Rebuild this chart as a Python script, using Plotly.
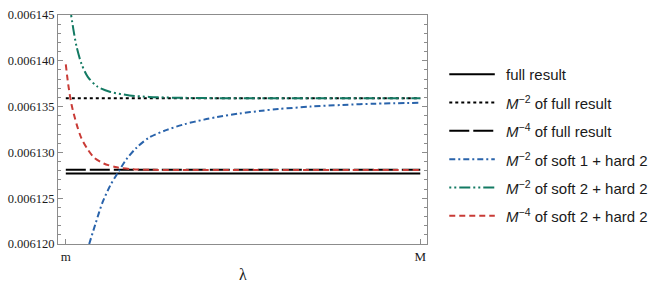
import plotly.graph_objects as go

# ---- data (lambda as fraction between m and M) ----
full_result = 0.0061277
m2_full = 0.0061359
m4_full = 0.0061281

blue_lam = [0.066, 0.085, 0.103, 0.126, 0.148, 0.171, 0.199, 0.235, 0.281, 0.335, 0.390,
            0.426, 0.490, 0.553, 0.599, 0.690, 0.781, 0.872, 1.0]
blue_val = [0.00612000, 0.00612236, 0.00612448, 0.00612643, 0.00612784, 0.00612925, 0.00613049,
            0.00613162, 0.00613240, 0.00613308, 0.00613358, 0.00613385, 0.00613425, 0.00613455,
            0.00613473, 0.00613500, 0.00613518, 0.00613532, 0.00613542]

green_lam = [0.015, 0.021, 0.030, 0.044, 0.062, 0.089, 0.126, 0.180, 0.235, 0.309, 0.399,
             0.536, 0.672, 0.836, 1.0]
green_val = [0.00614500, 0.00614352, 0.00614161, 0.00613970, 0.00613825, 0.00613719, 0.00613660,
             0.00613622, 0.00613606, 0.00613597, 0.00613593, 0.00613591, 0.0061359, 0.0061359,
             0.0061359]

red_lam = [0.0, 0.007, 0.016, 0.030, 0.044, 0.062, 0.080, 0.107, 0.144, 0.189, 0.244,
           0.330, 0.500, 0.750, 1.0]
red_val = [0.00613960, 0.00613737, 0.00613525, 0.00613314, 0.00613155, 0.00613031, 0.00612943,
           0.00612879, 0.00612837, 0.00612816, 0.00612810, 0.00612808, 0.00612808, 0.00612808,
           0.00612808]

x_ticks = [0, 1]
x_ticklabels = ["m", "M"]
y_ticks = [0.006120, 0.006125, 0.006130, 0.006135, 0.006140, 0.006145]
y_ticklabels = ["0.006120", "0.006125", "0.006130", "0.006135", "0.006140", "0.006145"]

BLUE = "#2963AB"
GREEN = "#137A63"
RED = "#C93B36"

series = [
    # name, x, y, color, dash
    ("full result", [0, 1], [full_result, full_result], "#000000", "solid"),
    ("<i>M</i><sup>−2</sup> of full result", [0, 1], [m2_full, m2_full], "#000000", "3px,3px"),
    ("<i>M</i><sup>−4</sup> of full result", [0, 1], [m4_full, m4_full], "#000000", "20px,4px"),
    ("<i>M</i><sup>−2</sup> of soft 1 + hard 2", blue_lam, blue_val, BLUE, "6px,3px,2px,3px"),
    ("<i>M</i><sup>−2</sup> of soft 2 + hard 2", green_lam, green_val, GREEN, "2px,3px,2px,3px,11px,3px"),
    ("<i>M</i><sup>−4</sup> of soft 2 + hard 2", red_lam, red_val, RED, "6px,4px"),
]

fig = go.Figure()
for name, xs, ys, col, dash in series:
    fig.add_trace(go.Scatter(x=xs, y=ys, mode="lines", name=name, showlegend=False,
                             hoverinfo="skip",
                             line=dict(color=col, width=2, dash=dash, shape="spline", smoothing=0.8)))

W, H = 664, 290
L, R, T, B = 46, 427, 8, 244
pw, ph = R - L, B - T

# manual legend
leg_y0 = 69
leg_dy = 29.2
for i, (name, xs, ys, col, dash) in enumerate(series):
    ypix = leg_y0 + i * leg_dy
    yp = (B - ypix) / ph
    fig.add_shape(type="line", xref="paper", yref="paper",
                  x0=(450 - L) / pw, x1=(497 - L) / pw, y0=yp, y1=yp,
                  line=dict(color=col, width=2, dash=dash))
    fig.add_annotation(xref="paper", yref="paper", x=(507 - L) / pw, y=yp,
                       text=name, showarrow=False, xanchor="left", yanchor="middle",
                       font=dict(family="Liberation Sans", size=15, color="#1a1a1a"))

fig.add_annotation(xref="paper", yref="paper", x=0.5, y=-(275 - B) / ph, text="λ",
                   showarrow=False, xanchor="center", yanchor="middle",
                   font=dict(family="Liberation Serif", size=16, color="#1a1a1a"))

axis_col = "#8c8c8c"
fig.update_layout(
    width=W, height=H,
    margin=dict(l=L, r=W - R, t=T, b=H - B, pad=0),
    paper_bgcolor="white", plot_bgcolor="white",
    showlegend=False,
    hovermode=False,
    xaxis=dict(range=[-0.022, 1.019], tickmode="array", tickvals=x_ticks, ticktext=x_ticklabels,
               ticks="inside", ticklen=5, tickcolor=axis_col, showline=True, linecolor=axis_col,
               linewidth=1, mirror=True, showgrid=False, zeroline=False,
               tickfont=dict(family="Liberation Serif", size=13, color="#1a1a1a")),
    yaxis=dict(range=[0.006120 - 1e-11, 0.006145 + 1e-11], tickmode="array", tickvals=y_ticks,
               ticktext=y_ticklabels, ticks="inside", ticklen=5, tickcolor=axis_col,
               showline=True, linecolor=axis_col, linewidth=1, mirror="ticks",
               showgrid=False, zeroline=False,
               minor=dict(dtick=0.000001, ticks="inside", ticklen=3, tickcolor=axis_col, showgrid=False),
               tickfont=dict(family="Liberation Serif", size=12.5, color="#1a1a1a")),
)

fig.write_html("out.html", config={"displayModeBar": False},
               post_script="document.body.style.margin='0';document.body.style.overflow='hidden';")
